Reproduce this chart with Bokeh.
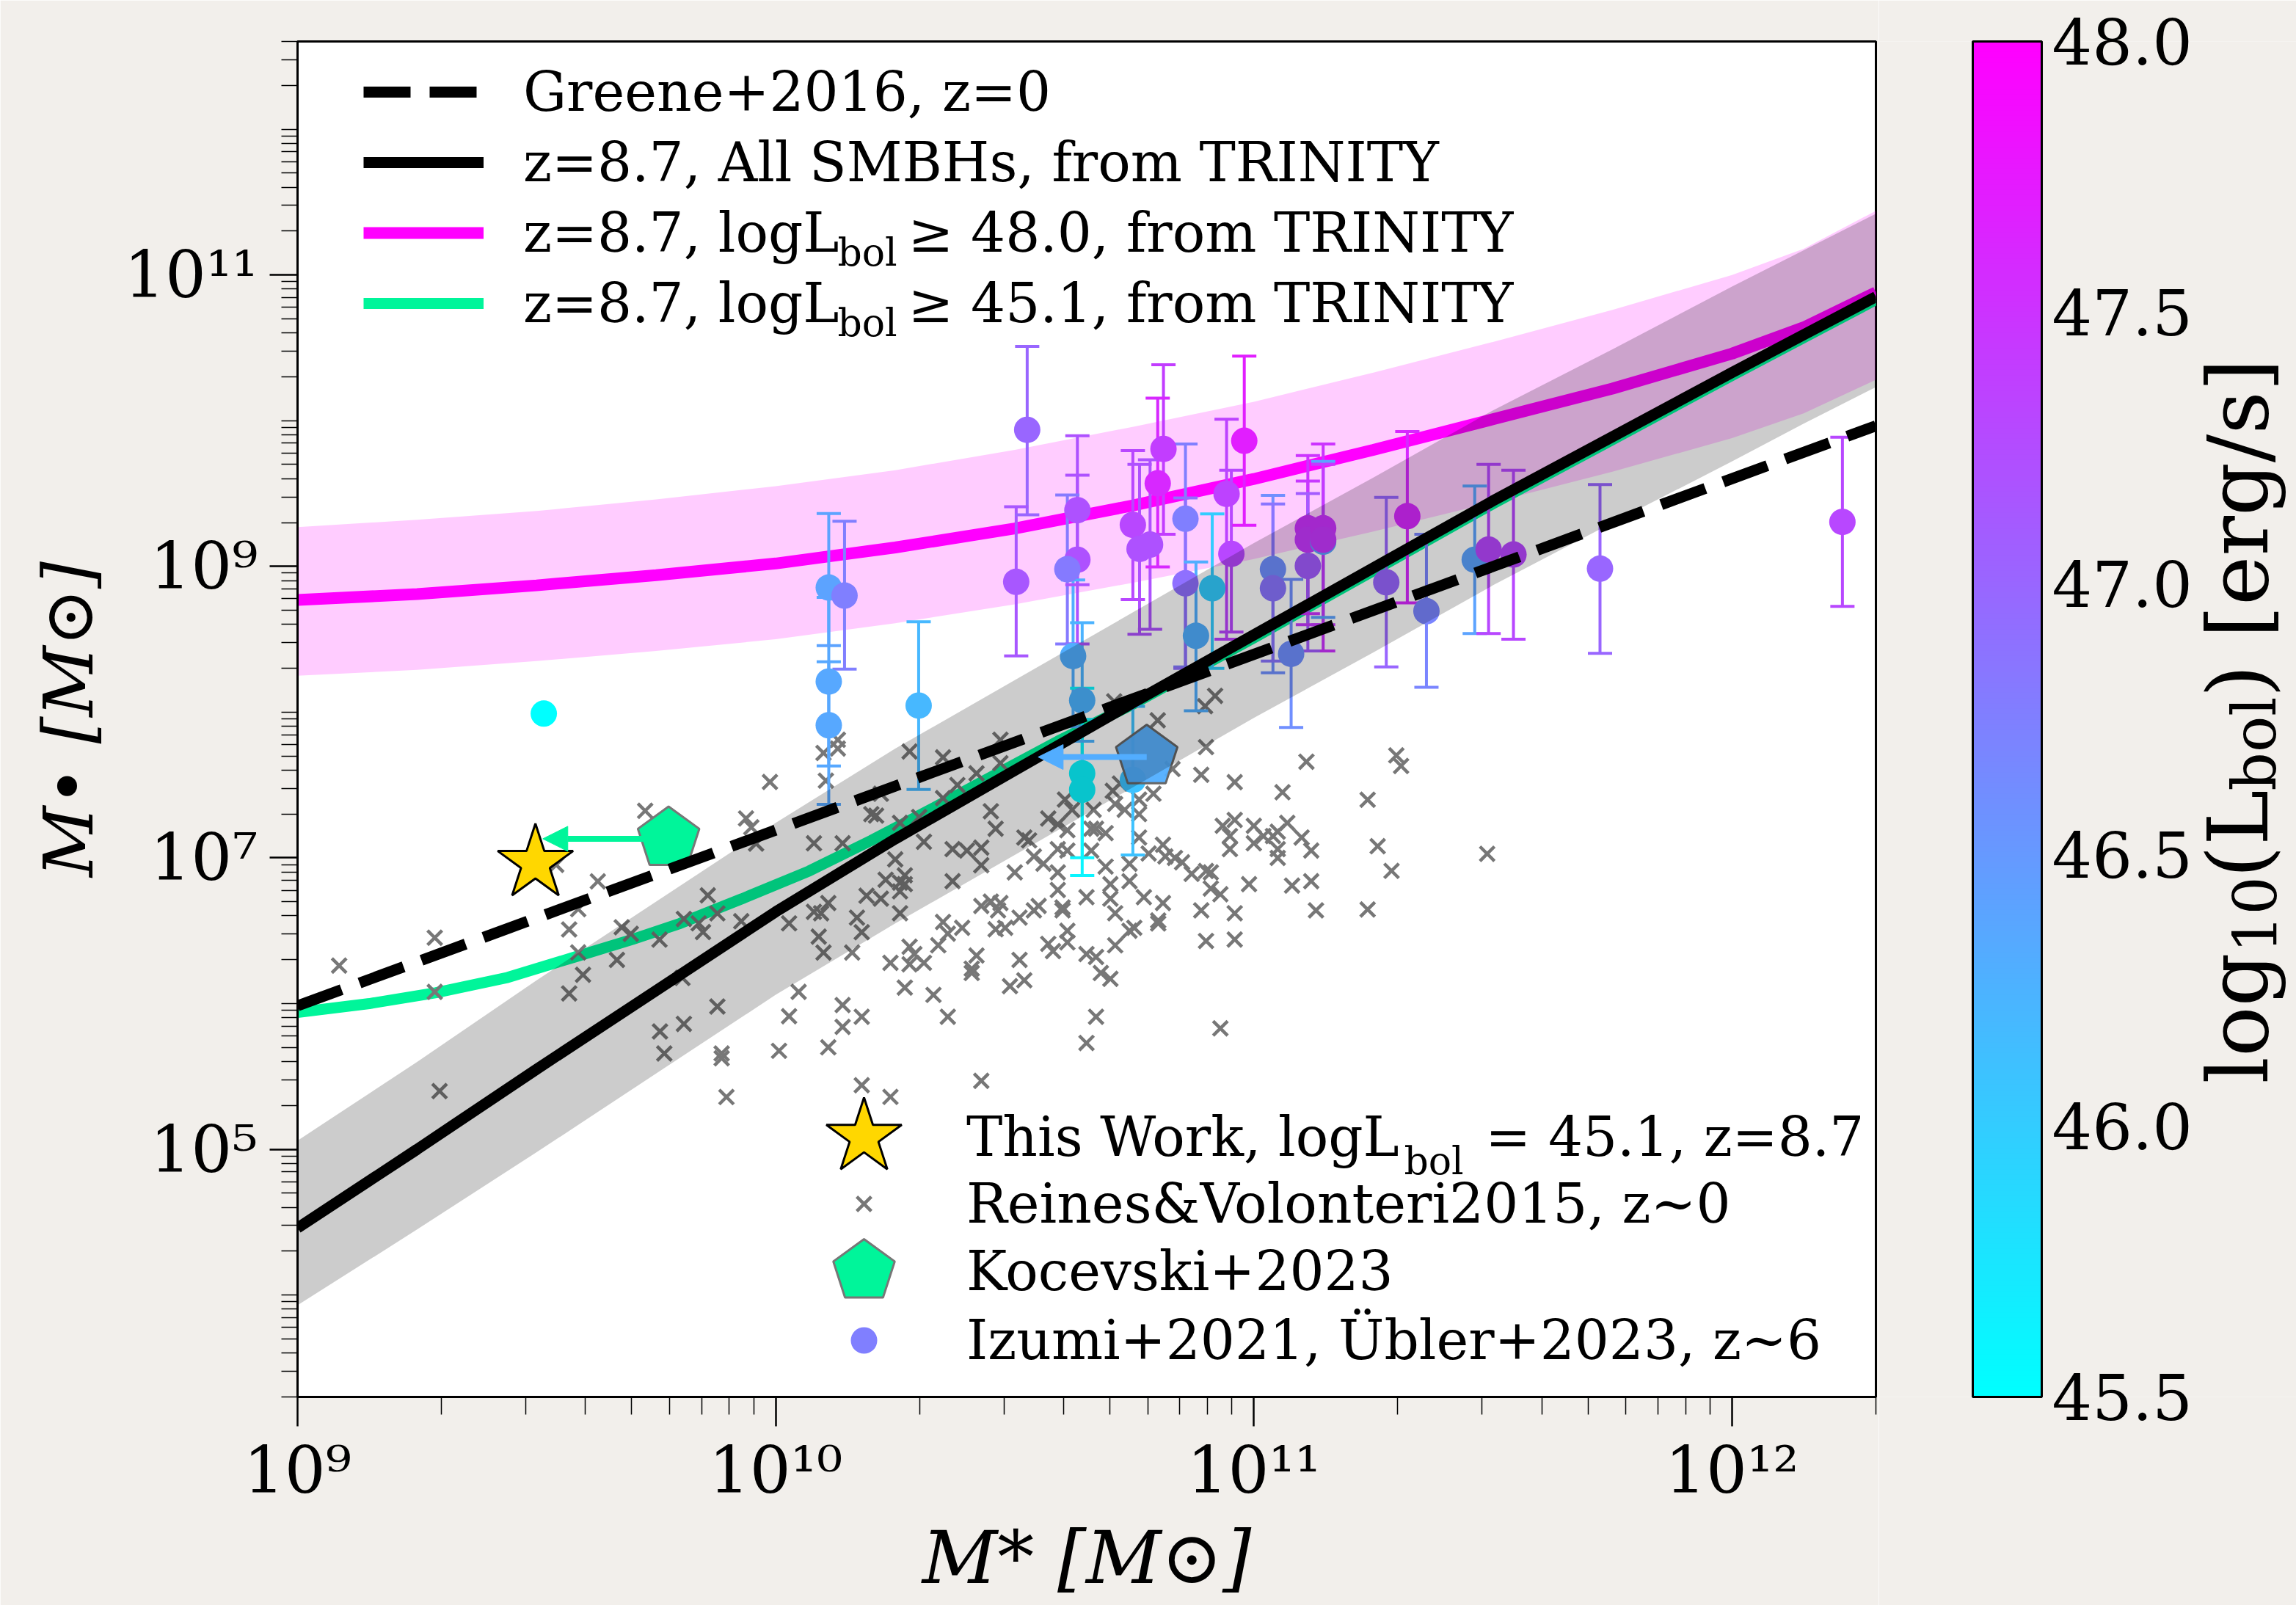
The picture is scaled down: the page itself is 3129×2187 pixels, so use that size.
import numpy as np
from bokeh.plotting import figure
from bokeh.layouts import row
from bokeh.models import (ColumnDataSource, LinearColorMapper, ColorBar, FixedTicker,
                          CustomJSTickFormatter, PrintfTickFormatter, Legend, LegendItem,
                          Label, Arrow, NormalHead, Range1d)
from bokeh.embed import file_html
from bokeh.resources import INLINE

FONT = "DejaVu Serif"
BEIGE = "#f2efeb"

# ------------------------------------------------------------------ data
x_limits = [1e9, 2e12]
y_limits = [2.0e3, 4.0e12]

# TRINITY z=8.7 relations (log10 values)
trinity_logms = [9.0, 9.25, 9.5, 9.75, 10.0, 10.25, 10.5, 10.75, 11.0, 11.25, 11.5, 11.75, 12.0, 12.15, 12.301]
trinity_all_med = [4.46, 5.00, 5.55, 6.09, 6.63, 7.13, 7.60, 8.07, 8.53, 8.99, 9.45, 9.89, 10.33, 10.59, 10.85]
trinity_all_hi = [5.06, 5.60, 6.16, 6.70, 7.24, 7.75, 8.22, 8.69, 9.16, 9.61, 10.07, 10.49, 10.92, 11.17, 11.42]
trinity_all_lo = [3.93, 4.45, 4.98, 5.52, 6.06, 6.55, 7.02, 7.49, 7.96, 8.41, 8.87, 9.30, 9.72, 9.98, 10.23]
trinity_l48_med = [8.77, 8.81, 8.87, 8.94, 9.02, 9.13, 9.26, 9.42, 9.60, 9.80, 10.01, 10.22, 10.46, 10.64, 10.88]
trinity_l48_hi = [9.27, 9.32, 9.38, 9.46, 9.55, 9.66, 9.80, 9.96, 10.13, 10.33, 10.54, 10.76, 11.00, 11.18, 11.44]
trinity_l48_lo = [8.25, 8.29, 8.35, 8.42, 8.50, 8.61, 8.74, 8.89, 9.05, 9.24, 9.44, 9.65, 9.88, 10.05, 10.28]
trinity_l451_logms = [9.0, 9.15, 9.29, 9.44, 9.58, 9.70, 9.80, 9.93, 10.07, 10.2, 10.34, 10.47, 10.59,
                      10.75, 11.0, 11.25, 11.5, 11.75, 12.0, 12.15, 12.301]
trinity_l451_med = [5.94, 6.00, 6.075, 6.18, 6.32, 6.44, 6.55, 6.72, 6.91, 7.12, 7.36, 7.59, 7.80,
                    8.06, 8.51, 8.97, 9.43, 9.87, 10.31, 10.57, 10.83]

# Greene+2016 (z=0)
greene_logms = [9.0, 12.301]
greene_logmbh = [5.985, 9.965]

# Reines & Volonteri 2015 local AGN
rv_logms = [
    9.087, 9.287, 9.287, 9.297, 9.568, 9.587, 9.587, 9.597, 9.568, 9.628, 9.727, 9.668,
    9.678, 9.697, 9.757, 9.808, 9.839, 9.848, 9.858, 9.878, 9.878, 9.808, 9.758, 9.767,
    9.887, 9.887, 9.897, 10.007, 10.028, 10.028, 10.048, 9.928, 9.938, 9.949, 9.959, 9.988,
    9.541, 9.805,
    10.799, 10.919, 10.898, 10.708,
    11.298, 11.308, 11.238, 11.259, 11.288, 11.238, 11.488,
    10.10, 10.13, 10.13, 10.105, 10.28, 10.35, 10.42, 10.47, 10.47, 10.22, 10.38, 10.35,
    10.20, 10.21, 10.45, 10.46, 10.52, 10.53, 10.26, 10.30, 10.31, 10.08, 10.14, 10.37,
    10.40, 10.43, 10.43, 10.25, 10.27, 10.23, 10.26, 10.27, 10.26, 10.37, 10.19, 10.22,
    10.11, 10.08, 10.095, 10.17, 10.18, 10.26, 10.09, 10.10, 10.16, 10.24, 10.28, 10.28,
    10.31, 10.29, 10.35, 10.34, 10.36, 10.39, 10.43, 10.45, 10.47, 10.465, 10.46, 10.48,
    10.51, 10.54, 10.55, 10.60, 10.60, 10.50, 10.54, 10.56, 10.57, 10.59, 10.61, 10.605,
    10.62, 10.59, 10.61, 10.66, 10.59, 10.59, 10.65, 10.66, 10.67, 10.69, 10.665, 10.69,
    10.70, 10.70, 10.71, 10.74, 10.74, 10.77, 10.81, 10.80, 10.80, 10.74, 10.75, 10.71,
    10.61, 10.61, 10.57, 10.58, 10.65, 10.67, 10.68, 10.70, 10.42, 10.41, 10.41, 10.51,
    10.52, 10.49, 10.27, 10.33, 10.36, 10.14, 10.18, 10.14, 10.11, 10.67, 10.65, 10.93,
    10.96, 10.96, 10.90, 10.89, 10.99, 11.08, 11.12, 11.13, 10.935, 10.96, 10.95, 10.95,
    11.00, 11.00, 11.02, 11.04, 11.05, 11.07, 11.10, 11.12, 11.05, 11.05, 10.81, 10.815,
    10.835, 10.85, 10.87, 10.90, 10.91, 10.91, 10.93, 10.78, 10.79, 10.76, 10.76, 10.76,
    10.705, 10.71, 10.73, 10.72, 10.83, 10.89, 10.90, 10.96, 11.06, 11.11, 10.18, 10.24,
    10.43,
]
rv_logmbh = [
    6.261, 6.452, 6.081, 5.400, 6.509, 6.648, 6.351, 6.198, 6.070, 6.839, 7.323, 6.300,
    6.524, 6.479, 6.439, 6.581, 6.551, 6.491, 6.743, 6.619, 5.980, 5.861, 5.809, 5.658,
    5.658, 5.625, 5.359, 5.676, 5.913, 6.551, 6.081, 6.565, 7.271, 7.210, 7.098, 7.521,
    6.952, 6.176,
    7.944, 8.112, 8.041, 8.074,
    7.703, 7.631, 7.399, 7.080, 6.911, 6.646, 7.028,
    7.72, 7.75, 7.81, 7.53, 7.73, 7.69, 7.58, 7.81, 7.65, 7.44, 7.50, 7.41,
    7.30, 7.29, 7.32, 7.20, 7.14, 7.12, 7.24, 7.28, 7.11, 7.10, 7.10, 7.06,
    7.05, 7.07, 6.95, 6.99, 6.88, 6.85, 6.83, 6.82, 6.77, 6.84, 6.74, 6.72,
    6.69, 6.63, 6.62, 6.59, 6.49, 6.62, 6.46, 6.35, 6.35, 6.28, 6.39, 6.27,
    6.28, 6.34, 6.56, 6.40, 6.48, 6.52, 6.67, 6.70, 6.69, 6.64, 6.51, 6.52,
    6.59, 6.64, 6.67, 6.66, 6.64, 6.90, 7.01, 6.96, 7.27, 7.23, 7.19, 7.40,
    7.33, 7.06, 7.05, 7.05, 6.90, 6.78, 6.73, 7.20, 7.20, 7.17, 7.33, 6.94,
    6.82, 6.72, 6.62, 6.96, 6.84, 6.73, 6.69, 6.57, 6.55, 6.50, 6.52, 6.40,
    6.50, 6.42, 6.41, 6.36, 6.34, 6.32, 6.21, 6.17, 6.33, 6.24, 6.21, 6.30,
    6.16, 6.12, 6.11, 6.06, 5.91, 5.99, 5.91, 5.84, 5.70, 5.91, 5.73, 5.83,
    6.62, 6.44, 6.43, 6.64, 6.82, 6.81, 6.84, 6.64, 7.22, 7.26, 7.15, 7.06,
    7.22, 7.10, 7.15, 7.15, 7.18, 7.24, 7.14, 7.05, 7.06, 7.00, 7.09, 7.01,
    7.00, 6.97, 6.89, 6.91, 6.90, 6.79, 6.75, 7.03, 7.44, 7.40, 7.30, 7.14,
    7.46, 7.37, 7.33, 7.51, 7.61, 7.57, 7.76, 7.52, 7.45, 7.66, 5.44, 5.36,
    5.47,
]

# Izumi+2021, Ubler+2023 (z~6): log M*, log MBH, log Lbol, MBH error-bar ends
hz_logms = [10.111, 10.144, 10.111, 10.111, 10.299, 10.503, 10.526, 10.631, 10.631, 10.610,
            10.622, 10.641, 10.641, 10.641, 10.747, 10.747, 10.761, 10.783, 10.799, 10.811,
            10.857, 10.857, 10.879, 10.913, 10.943, 10.953, 10.980, 11.040, 11.040, 11.078,
            11.113, 11.113, 11.145, 11.145, 11.145, 11.113, 11.277, 11.321, 11.361, 11.462,
            11.491, 11.543, 11.724, 12.231]
hz_logmbh = [8.855, 8.800, 8.210, 7.910, 8.045, 8.894, 9.937, 9.386, 9.046, 8.981,
             8.385, 8.081, 7.580, 7.467, 7.535, 9.285, 9.120, 9.150, 9.570, 9.806,
             9.327, 8.884, 8.524, 8.850, 9.498, 9.086, 9.862, 8.981, 8.850, 8.400,
             9.262, 9.183, 9.262, 9.170, 9.183, 9.004, 8.891, 9.345, 8.693, 9.046,
             9.116, 9.082, 8.985, 9.305]
hz_loglbol = [46.40, 46.75, 46.35, 46.35, 46.20, 47.15, 47.00, 47.20, 47.20, 46.80,
              46.30, 46.25, 45.60, 45.60, 46.10, 47.30, 47.20, 47.20, 47.60, 47.40,
              46.75, 46.90, 46.30, 46.00, 47.35, 47.30, 47.70, 46.60, 46.85, 46.60,
              47.50, 47.45, 47.50, 46.40, 47.45, 47.10, 47.00, 47.60, 46.70, 46.40,
              47.30, 47.30, 47.00, 47.30]
hz_logmbh_hi = [9.363, 9.310, 8.788, 8.345, 8.620, 9.410, 10.510, 9.897, 9.626, 9.490,
                8.907, 8.614, 8.164, 7.950, 8.040, 9.795, 9.700, 9.732, 10.155, 10.384,
                9.840, 9.470, 9.030, 9.360, 10.010, 9.660, 10.443, 9.487, 9.428, 8.911,
                9.761, 9.586, 9.840, 9.720, 9.700, 9.500, 9.473, 9.925, 9.220, 9.552,
                9.700, 9.660, 9.562, 9.886]
hz_logmbh_lo = [8.456, 8.295, 7.630, 7.368, 7.470, 8.386, 9.354, 8.874, 8.468, 8.468,
                7.900, 7.800, 7.001, 6.879, 7.020, 8.772, 8.535, 8.569, 8.997, 9.220,
                8.310, 8.300, 8.010, 8.300, 8.500, 8.550, 9.282, 8.270, 8.350, 7.895,
                8.675, 8.600, 8.420, 8.650, 8.600, 8.420, 8.310, 8.750, 8.171, 8.540,
                8.540, 8.500, 8.403, 8.726]

# additional source without error bars
extra_logms = [9.515]
extra_logmbh = [7.99]
extra_loglbol = [45.5]

# upper limit in M* (blue pentagon)
lim_logms = [10.776]
lim_logmbh = [7.692]
lim_loglbol = [46.3]
lim_logms_upper = [10.549]

# Kocevski+2023
koc_logms = [9.776]
koc_logmbh = [7.131]
koc_logms_upper = [9.513]

# This work
tw_logms = [9.4975]
tw_logmbh = [6.963]

cbar_ticks = [45.5, 46.0, 46.5, 47.0, 47.5, 48.0]
x_major = [1e9, 1e10, 1e11, 1e12]
y_major = [1e5, 1e7, 1e9, 1e11]


def lin(a):
    return list(10 ** np.asarray(a, dtype=float))


# ------------------------------------------------------------------ main figure
cool = ["#%02x%02xff" % (i, 255 - i) for i in range(256)]
mapper = LinearColorMapper(palette=cool, low=45.5, high=48.0)

p = figure(x_axis_type="log", y_axis_type="log",
           x_range=Range1d(*x_limits), y_range=Range1d(*y_limits),
           frame_width=2151, frame_height=1847,
           min_border_left=405, min_border_right=4, min_border_top=56, min_border_bottom=284,
           output_backend="svg", toolbar_location=None,
           background_fill_color="white", border_fill_color=BEIGE)
p.xgrid.visible = False
p.ygrid.visible = False
p.outline_line_color = "black"
p.outline_line_width = 3

x_minor = [k * 10.0 ** n for n in range(9, 13) for k in range(2, 10) if k * 10.0 ** n <= x_limits[1]]
y_minor = [k * 10.0 ** n for n in range(3, 13) for k in range(1, 10)
           if y_limits[0] <= k * 10.0 ** n <= y_limits[1] and not (k == 1 and n % 2 == 1)]
p.xaxis.ticker = FixedTicker(ticks=x_major, minor_ticks=x_minor)
p.yaxis.ticker = FixedTicker(ticks=y_major, minor_ticks=y_minor)
sup_fmt = CustomJSTickFormatter(code="""
const sup = {'0':'\u2070','1':'\u00b9','2':'\u00b2','3':'\u00b3','4':'\u2074','5':'\u2075','6':'\u2076','7':'\u2077','8':'\u2078','9':'\u2079','-':'\u207b'};
const e = Math.round(Math.log10(tick));
return '10' + String(e).split('').map(c => sup[c]).join('');
""")
for ax, tout, mout in ((p.xaxis, 40, 24), (p.yaxis, 38, 22)):
    ax.formatter = sup_fmt
    ax.major_tick_out = tout
    ax.major_tick_in = 0
    ax.minor_tick_out = mout
    ax.minor_tick_in = 0
    ax.major_tick_line_width = 2.5
    ax.minor_tick_line_width = 1.5
    ax.axis_line_width = 3
    ax.major_tick_line_color = "black"
    ax.minor_tick_line_color = "black"
    ax.axis_line_color = "black"
    ax.major_label_text_font = FONT
    ax.major_label_text_font_size = "88px"
    ax.major_label_text_color = "black"
    ax.axis_label_text_font = FONT
    ax.axis_label_text_font_style = "italic"
    ax.axis_label_text_color = "black"
p.xaxis.axis_label_text_font_size = "100px"
p.yaxis.axis_label_text_font_size = "94px"
p.xaxis.major_label_standoff = 8
p.xaxis.axis_label_standoff = 6
p.yaxis.major_label_standoff = 16
p.yaxis.axis_label_standoff = 18
p.xaxis.axis_label = "M* [M\u2299]"
p.yaxis.axis_label = "M\u2022 [M\u2299]"

# ---- magenta (log Lbol >= 48) band + line
src48 = ColumnDataSource(dict(x=lin(trinity_logms), med=lin(trinity_l48_med),
                              hi=lin(trinity_l48_hi), lo=lin(trinity_l48_lo)))
p.varea(x="x", y1="lo", y2="hi", source=src48, fill_color="#ff00ff", fill_alpha=0.2)
r_mag = p.line(x="x", y="med", source=src48, line_color="#ff00ff", line_width=16)

# ---- green (log Lbol >= 45.1) line
r_grn = p.line(x=lin(trinity_l451_logms), y=lin(trinity_l451_med), line_color="#00f59a", line_width=15)

# ---- Reines & Volonteri 2015
r_rv = p.scatter(x=lin(rv_logms), y=lin(rv_logmbh), marker="x", size=28,
                 line_color="#777777", line_width=4.5)

# ---- high-z quasars with error bars
hz = ColumnDataSource(dict(x=lin(hz_logms), y=lin(hz_logmbh), L=hz_loglbol,
                           hi=lin(hz_logmbh_hi), lo=lin(hz_logmbh_lo)))
cmap_field = {"field": "L", "transform": mapper}
p.segment(x0="x", y0="lo", x1="x", y1="hi", source=hz, line_color=cmap_field, line_width=4)
p.scatter(x="x", y="hi", source=hz, marker="dash", size=33, line_color=cmap_field, line_width=4)
p.scatter(x="x", y="lo", source=hz, marker="dash", size=33, line_color=cmap_field, line_width=4)
r_hz = p.scatter(x="x", y="y", source=hz, marker="circle", size=36,
                 fill_color=cmap_field, line_color=None)
ex = ColumnDataSource(dict(x=lin(extra_logms), y=lin(extra_logmbh), L=extra_loglbol))
p.scatter(x="x", y="y", source=ex, marker="circle", size=36, fill_color=cmap_field, line_color=None)

# ---- upper limit (blue pentagon) and Kocevski+2023
lim = ColumnDataSource(dict(x=lin(lim_logms), y=lin(lim_logmbh), L=lim_loglbol))
lim_col = "#52adff"
p.add_layout(Arrow(x_start=10 ** lim_logms[0], y_start=10 ** lim_logmbh[0],
                   x_end=10 ** lim_logms_upper[0], y_end=10 ** lim_logmbh[0],
                   line_color=lim_col, line_width=8,
                   end=NormalHead(size=34, fill_color=lim_col, line_color=lim_col)))
p.ngon(x="x", y="y", source=lim, radius=44, radius_units="screen", n=5, angle=0,
       fill_color=cmap_field, fill_alpha=0.95, line_color="#666666", line_width=3)

koc = ColumnDataSource(dict(x=lin(koc_logms), y=lin(koc_logmbh)))
koc_col = "#00f59a"
p.add_layout(Arrow(x_start=10 ** koc_logms[0], y_start=10 ** koc_logmbh[0],
                   x_end=10 ** koc_logms_upper[0], y_end=10 ** koc_logmbh[0],
                   line_color=koc_col, line_width=8,
                   end=NormalHead(size=34, fill_color=koc_col, line_color=koc_col)))
r_koc = p.ngon(x="x", y="y", source=koc, radius=44, radius_units="screen", n=5, angle=0,
               fill_color=koc_col, line_color="#777777", line_width=3)

# ---- TRINITY all SMBHs band (drawn over points) + line
srcall = ColumnDataSource(dict(x=lin(trinity_logms), med=lin(trinity_all_med),
                               hi=lin(trinity_all_hi), lo=lin(trinity_all_lo)))
p.varea(x="x", y1="lo", y2="hi", source=srcall, fill_color="black", fill_alpha=0.2)
r_all = p.line(x="x", y="med", source=srcall, line_color="black", line_width=15)

# ---- Greene+2016
r_gr = p.line(x=lin(greene_logms), y=lin(greene_logmbh), line_color="black",
              line_width=15, line_dash="64 26")

# ---- this work
r_tw = p.scatter(x=lin(tw_logms), y=lin(tw_logmbh), marker="star", size=108,
                 fill_color="#ffd700", line_color="black", line_width=3)

# ------------------------------------------------------------------ legends
lab_kw = dict(label_text_font=FONT, label_text_font_size="74px", label_text_color="black",
              border_line_alpha=0, background_fill_alpha=0, padding=0, margin=0, spacing=0)
leg1 = Legend(items=[LegendItem(label="Greene+2016, z=0", renderers=[r_gr]),
                     LegendItem(label="z=8.7, All SMBHs, from TRINITY", renderers=[r_all]),
                     LegendItem(label="z=8.7, logL    \u2265 48.0, from TRINITY", renderers=[r_mag]),
                     LegendItem(label="z=8.7, logL    \u2265 45.1, from TRINITY", renderers=[r_grn])],
              location=(90, 1442), glyph_width=164, glyph_height=96, label_height=96,
              label_standoff=54, **lab_kw)
p.add_layout(leg1)

leg_tw = Legend(items=[LegendItem(label="This Work, logL     = 45.1, z=8.7", renderers=[r_tw])],
                location=(637, 219), glyph_width=270, glyph_height=270, label_standoff=5, **lab_kw)
leg_rv = Legend(items=[LegendItem(label="Reines&Volonteri2015, z~0", renderers=[r_rv])],
                location=(737, 218), glyph_width=70, glyph_height=90, label_standoff=105, **lab_kw)
leg_koc = Legend(items=[LegendItem(label="Kocevski+2023", renderers=[r_koc])],
                 location=(662, 61), glyph_width=220, glyph_height=220, label_standoff=30, **lab_kw)
leg_hz = Legend(items=[LegendItem(label="Izumi+2021, \u00dcbler+2023, z~6", renderers=[r_hz], index=1)],
                location=(727, 32), glyph_width=90, glyph_height=90, label_standoff=95, **lab_kw)
for lg in (leg_tw, leg_rv, leg_koc, leg_hz):
    p.add_layout(lg)

# subscripts "bol" inside legend labels
for (sx, sy) in ((736, 1560), (736, 1464), (1508, 322)):
    p.add_layout(Label(x=sx, y=sy, x_units="screen", y_units="screen", text="bol",
                       text_font=FONT, text_font_size="52px", text_baseline="alphabetic",
                       text_align="left", text_color="black"))

# ------------------------------------------------------------------ colour-bar panel
pc = figure(x_range=Range1d(0, 1), y_range=Range1d(0, 1),
            frame_width=569, frame_height=1847,
            min_border_left=0, min_border_right=0, min_border_top=56, min_border_bottom=284,
            x_axis_location=None, y_axis_location=None,
            output_backend="svg", toolbar_location=None,
            background_fill_color=BEIGE, border_fill_color=BEIGE, outline_line_color=None)
pc.xgrid.visible = False
pc.ygrid.visible = False

cb = ColorBar(color_mapper=mapper, ticker=FixedTicker(ticks=cbar_ticks),
              formatter=PrintfTickFormatter(format="%.1f"),
              width=94, height=1847, location=(128, 0), padding=0, margin=0,
              major_label_text_font=FONT, major_label_text_font_size="86px",
              major_label_text_color="black",
              label_standoff=14, major_tick_line_color=None, minor_tick_line_color=None,
              bar_line_color="black", bar_line_width=3,
              background_fill_alpha=0, border_line_color=None)
pc.add_layout(cb)

# colour-bar title, rotated, made of pieces for the subscripts (centred anchors)
for txt, sx, sy, fs in (("log", 490, 516, "114px"), ("10", 512, 657, "82px"),
                        ("(L", 490, 767, "114px"), ("bol", 512, 890, "82px"),
                        (") [erg/s]", 490, 1184, "114px")):
    pc.add_layout(Label(x=sx, y=sy, x_units="screen", y_units="screen", text=txt, angle=np.pi / 2,
                        text_font=FONT, text_font_size=fs, text_baseline="middle",
                        text_align="center", text_color="black"))

layout = row(p, pc, spacing=0)
open("out.html", "w").write(file_html(layout, INLINE))
